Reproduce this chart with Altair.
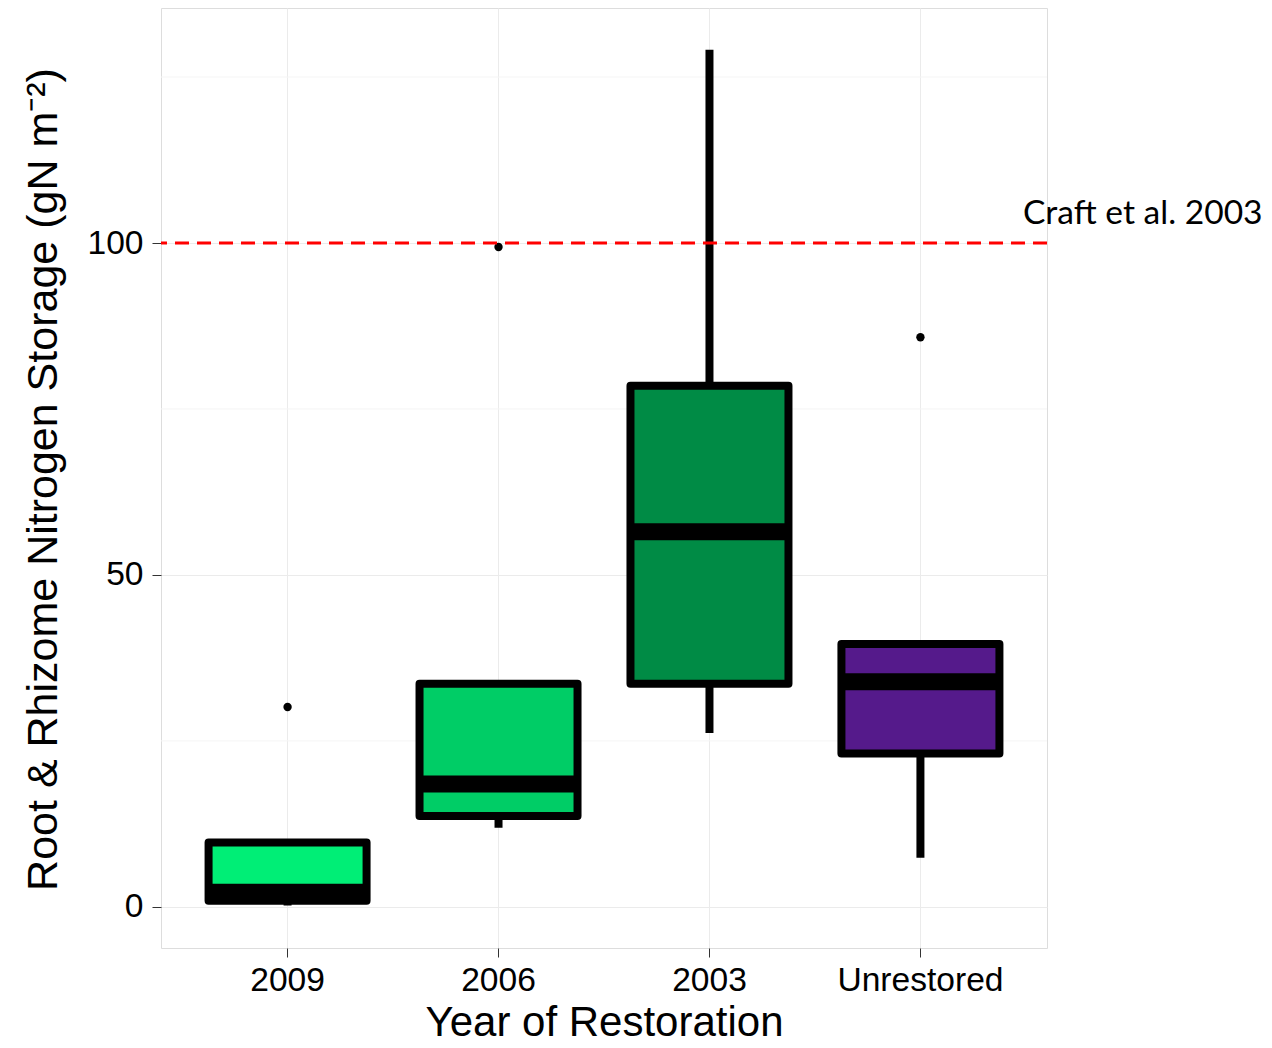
import altair as alt
import pandas as pd

categories = ["2009", "2006", "2003", "Unrestored"]
fill_colors = ["#00EE76", "#00CD66", "#008B45", "#551A8B"]
whisker_low = [0.2, 11.9, 26.2, 7.4]
q1 = [0.9, 13.7, 33.6, 23.1]
median = [2.2, 18.5, 56.5, 33.9]
q3 = [9.7, 33.6, 78.5, 39.6]
whisker_high = [9.7, 33.6, 129.1, 39.6]

outlier_groups = ["2009", "2006", "Unrestored"]
outlier_values = [30.1, 99.4, 85.8]

ref_values = [100]
ref_labels = ["Craft et al. 2003"]

major_breaks = [0, 50, 100]
minor_breaks = [25, 75, 125]
y_domain = [-6.2, 135.4]

box_df = pd.DataFrame({
    "group": categories, "lo": whisker_low, "q1": q1, "med": median,
    "q3": q3, "hi": whisker_high,
})
out_df = pd.DataFrame({"group": outlier_groups, "value": outlier_values})
ref_df = pd.DataFrame({"value": ref_values, "label": ref_labels})
minor_df = pd.DataFrame({"value": minor_breaks})

W, H = 886, 940

x_enc = alt.X(
    "group:N", sort=categories,
    scale=alt.Scale(type="band", domain=categories, paddingInner=0, paddingOuter=0.1),
    axis=alt.Axis(
        title="Year of Restoration", labelAngle=0, bandPosition=0.5,
        grid=True, gridColor="#EBEBEB", gridWidth=1,
        tickSize=9, tickColor="#333333", labelPadding=6,
        labelFontSize=33.6, labelFont="Liberation Sans", labelColor="black",
        titleFontSize=42, titleFont="Liberation Sans", titleFontWeight="normal",
        titleColor="black", titleX=W / 2, titleY=87, titleAlign="center",
        titleBaseline="alphabetic", domain=False,
    ),
)
y_scale = alt.Scale(domain=y_domain, nice=False, zero=False)
y_axis = alt.Axis(
    title="Root & Rhizome Nitrogen Storage (gN m\u207b\u00b2)", values=major_breaks,
    grid=True, gridColor="#EBEBEB", gridWidth=1,
    tickSize=9, tickColor="#333333", labelPadding=9,
    labelFontSize=33.6, labelFont="Liberation Sans", labelColor="black",
    titleFontSize=43, titleFont="Liberation Sans", titleFontWeight="normal",
    titleColor="black", titleAngle=-90, titleX=-105, titleY=H / 2 + 1,
    titleAlign="center", titleBaseline="alphabetic", domain=False,
)

minor = alt.Chart(minor_df).mark_rule(color="#F5F5F5", strokeWidth=1).encode(
    y=alt.Y("value:Q", scale=y_scale, axis=y_axis)
)

base = alt.Chart(box_df)

whiskers = base.mark_rule(color="black", strokeWidth=8).encode(
    x=x_enc,
    y=alt.Y("lo:Q", scale=y_scale, axis=y_axis),
    y2="hi:Q",
)

boxes = base.mark_bar(size=158, stroke="black", strokeWidth=8, strokeJoin="round").encode(
    x=x_enc,
    y=alt.Y("q1:Q", scale=y_scale, axis=y_axis),
    y2="q3:Q",
    color=alt.Color("group:N", scale=alt.Scale(domain=categories, range=fill_colors), legend=None),
)

medians = base.mark_tick(color="black", thickness=17, size=158, opacity=1).encode(
    x=x_enc,
    y=alt.Y("med:Q", scale=y_scale, axis=y_axis),
)

outliers = alt.Chart(out_df).mark_circle(color="black", size=70, opacity=1).encode(
    x=x_enc,
    y=alt.Y("value:Q", scale=y_scale, axis=y_axis),
)

ref_line = alt.Chart(ref_df).mark_rule(color="#FF0000", strokeWidth=3, strokeDash=[14, 8]).encode(
    y=alt.Y("value:Q", scale=y_scale, axis=y_axis)
)

ref_text = alt.Chart(ref_df).mark_text(
    align="left", baseline="alphabetic", font="Lato", fontSize=33.6, dy=-19, color="black"
).encode(
    x=alt.value(862),
    y=alt.Y("value:Q", scale=y_scale, axis=y_axis),
    text="label:N",
)

chart = alt.layer(minor, whiskers, boxes, medians, outliers, ref_line, ref_text).properties(
    width=W, height=H,
    autosize=alt.AutoSizeParams(type="none"),
    padding={"left": 153, "right": 217, "top": 0, "bottom": 100},
).configure_view(stroke="#7F7F7F", strokeWidth=1).configure(background="white")

chart.save("out.html", embed_options={"renderer": "svg", "actions": False})
